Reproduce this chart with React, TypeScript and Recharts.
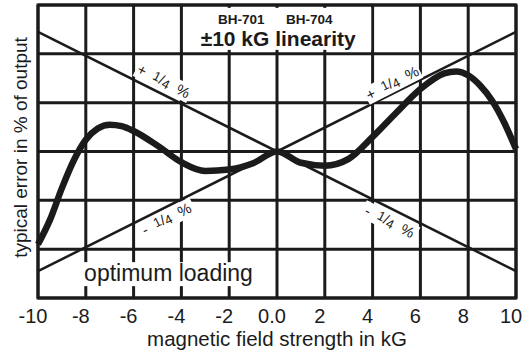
import React from 'react';
import {
  ComposedChart,
  Line,
  XAxis,
  YAxis,
  CartesianGrid,
  ReferenceLine,
  ReferenceDot,
  ReferenceArea,
} from 'recharts';

const fieldKG = [-10, -9.5, -9, -8.5, -8, -7.5, -7, -6.5, -6, -5, -4, -3, -2, -1, 0, 1, 2, 3, 4, 5, 6, 7, 7.5, 8, 8.5, 9, 9.5, 10];
const errorPct = [-1.9, -1.4, -0.75, -0.18, 0.24, 0.47, 0.55, 0.52, 0.42, 0.12, -0.22, -0.4, -0.37, -0.24, 0, -0.23, -0.29, -0.15, 0.3, 0.8, 1.28, 1.6, 1.64, 1.56, 1.35, 1.04, 0.6, 0.05];

const xTicks = [-10, -8, -6, -4, -2, 0, 2, 4, 6, 8, 10];
const yTicks = [-3, -2, -1, 0, 1, 2, 3];

// tolerance lines (+/- 1/4 %), end points in chart units
const plusLine = [{ x: -10, y: 2.45 }, { x: 10, y: -2.45 }];
const minusLine = [{ x: -10, y: -2.45 }, { x: 10, y: 2.45 }];

const curve = fieldKG.map((x, i) => ({ x, y: errorPct[i] }));

const FONT = '"Liberation Sans", Arial, Helvetica, sans-serif';
const INK = '#1b1b1b';

function QuarterLabel({ cx, cy, sign, angle }: any) {
  return (
    <g transform={`translate(${cx},${cy}) rotate(${angle})`}>
      <rect x={-30} y={-10} width={60} height={18} fill="#fff" />
      <text x={0} y={4} textAnchor="middle" fontFamily={FONT} fontSize={15} fill={INK} style={{ whiteSpace: 'pre' }}>
        <tspan>{sign}  </tspan>
        <tspan fontSize={13} dy={-2}>1</tspan>
        <tspan fontSize={14} dy={1}>/</tspan>
        <tspan fontSize={13} dy={2}>4</tspan>
        <tspan fontSize={15} dy={-1}>  %</tspan>
      </text>
    </g>
  );
}

function Title({ cx, cy }: any) {
  return (
    <g>
      <rect x={cx - 93} y={cy - 24} width={186} height={42} fill="#fff" />
      <text x={cx - 37} y={cy - 8} textAnchor="middle" fontFamily={FONT} fontWeight="bold" fontSize={13.5} fill={INK}>
        BH-701
      </text>
      <text x={cx + 31} y={cy - 8} textAnchor="middle" fontFamily={FONT} fontWeight="bold" fontSize={13.5} fill={INK}>
        BH-704
      </text>
      <text x={cx} y={cy + 14} textAnchor="middle" fontFamily={FONT} fontWeight="bold" fontSize={21} fill={INK}>
        ±10 kG linearity
      </text>
    </g>
  );
}

function Optimum({ cx, cy }: any) {
  return (
    <g>
      <rect x={cx - 100} y={cy - 9} width={200} height={24} fill="#fff" />
      <text x={cx} y={cy + 10} textAnchor="middle" fontFamily={FONT} fontSize={23} fill={INK}>
        optimum loading
      </text>
    </g>
  );
}

function XTick({ x, y, payload }: any) {
  const v = payload.value;
  return (
    <text x={x - 5} y={y + 17} textAnchor="middle" fontFamily={FONT} fontSize={20} fill={INK}>
      {v === 0 ? '0.0' : String(v)}
    </text>
  );
}

function YLabel({ viewBox }: any) {
  const cx = viewBox.x + 21;
  const cy = viewBox.y + viewBox.height / 2 - 4;
  return (
    <text
      transform={`translate(${cx},${cy}) rotate(-90)`}
      x={0}
      y={6}
      textAnchor="middle"
      fontFamily={FONT}
      fontSize={19}
      fill={INK}
    >
      typical error in % of output
    </text>
  );
}

export default function App() {
  return (
    <div style={{ position: 'absolute', left: 0, top: 0, background: '#fff' }}>
      <ComposedChart width={532} height={352} margin={{ top: 5, right: 16, left: 0, bottom: 0 }}>
        <CartesianGrid stroke={INK} strokeWidth={3} horizontal vertical />
        <XAxis
          type="number"
          dataKey="x"
          domain={[-10, 10]}
          ticks={xTicks}
          tick={<XTick />}
          axisLine={false}
          tickLine={false}
          height={54}
          label={{ value: 'magnetic field strength in kG', position: 'insideBottom', offset: 6, fontSize: 20.5, fill: INK, fontFamily: FONT }}
        />
        <YAxis
          type="number"
          domain={[-3, 3]}
          ticks={yTicks}
          tick={<g />}
          axisLine={false}
          tickLine={false}
          width={38}
          label={<YLabel />}
        />
        <ReferenceArea x1={-10} x2={10} y1={-3} y2={3} fill="none" stroke={INK} strokeWidth={3} />
        <ReferenceDot x={0.05} y={2.45} r={0} shape={(p: any) => <Title {...p} />} />
        <ReferenceDot x={-4.54} y={-2.45} r={0} shape={(p: any) => <Optimum {...p} />} />
        <ReferenceDot x={-4.77} y={1.42} r={0} shape={(p: any) => <QuarterLabel {...p} sign="+" angle={27} />} />
        <ReferenceDot x={4.85} y={1.38} r={0} shape={(p: any) => <QuarterLabel {...p} sign="+" angle={-27} />} />
        <ReferenceDot x={-4.6} y={-1.4} r={0} shape={(p: any) => <QuarterLabel {...p} sign="-" angle={-27} />} />
        <ReferenceDot x={4.69} y={-1.46} r={0} shape={(p: any) => <QuarterLabel {...p} sign="-" angle={27} />} />
        <ReferenceLine segment={plusLine} stroke={INK} strokeWidth={2.5} />
        <ReferenceLine segment={minusLine} stroke={INK} strokeWidth={2.5} />
        <Line
          data={curve}
          dataKey="y"
          type="monotone"
          stroke={INK}
          strokeWidth={6.5}
          dot={false}
          isAnimationActive={false}
        />
      </ComposedChart>
    </div>
  );
}
